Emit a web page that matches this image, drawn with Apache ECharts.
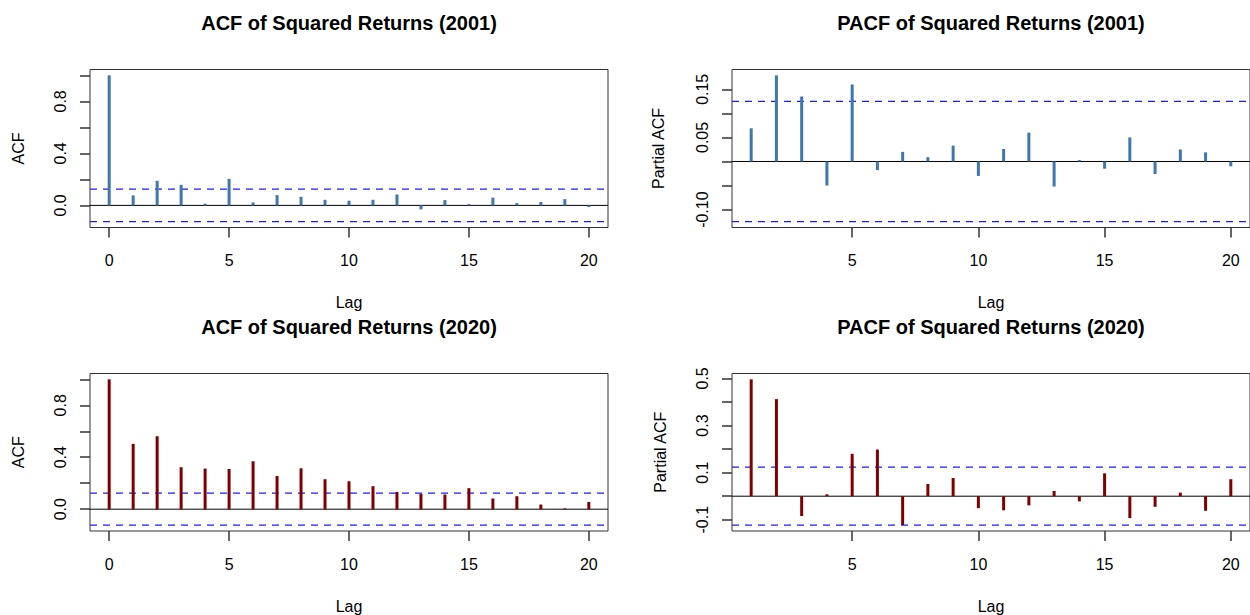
<!DOCTYPE html>
<html>
<head>
<meta charset="utf-8">
<title>ACF / PACF of Squared Returns</title>
<script src="https://cdn.jsdelivr.net/npm/echarts@6/dist/echarts.min.js"></script>
<style>
  html, body { margin: 0; padding: 0; background: #fff; }
  #main { width: 1250px; height: 615px; }
</style>
</head>
<body>
<div id="main"></div>
<script>
// lags
var lagsAcf = [0, 1, 2, 3, 4, 5, 6, 7, 8, 9, 10, 11, 12, 13, 14, 15, 16, 17, 18, 19, 20];
var lagsPacf = [1, 2, 3, 4, 5, 6, 7, 8, 9, 10, 11, 12, 13, 14, 15, 16, 17, 18, 19, 20];

// values
var acf2001 = [1.000, 0.077, 0.189, 0.158, 0.013, 0.204, 0.023, 0.079, 0.066, 0.043, 0.036,
               0.043, 0.084, -0.031, 0.041, 0.010, 0.059, 0.018, 0.026, 0.048, -0.013];
var pacf2001 = [0.069, 0.179, 0.135, -0.050, 0.160, -0.018, 0.020, 0.009, 0.033, -0.030,
                0.026, 0.060, -0.052, 0.003, -0.015, 0.050, -0.026, 0.025, 0.019, -0.010];
var acf2020 = [1.000, 0.503, 0.562, 0.323, 0.313, 0.310, 0.369, 0.256, 0.315, 0.231, 0.215,
               0.177, 0.133, 0.118, 0.113, 0.162, 0.082, 0.100, 0.036, 0.006, 0.056];
var pacf2020 = [0.496, 0.412, -0.084, 0.008, 0.180, 0.198, -0.122, 0.052, 0.077, -0.051,
                -0.060, -0.039, 0.022, -0.022, 0.097, -0.093, -0.045, 0.015, -0.062, 0.072];

// 95% bounds
var ci2001 = 0.125;
var ci2020 = 0.123;

// tick marks and labels
var xTicksAcf = [0, 5, 10, 15, 20];
var xTicksPacf = [5, 10, 15, 20];
var yTicksAcf = [0, 0.2, 0.4, 0.6, 0.8, 1.0];
var yLabelsAcf = [0, 0.4, 0.8];
var yTicksPacf2001 = [-0.10, -0.05, 0, 0.05, 0.10, 0.15];
var yLabelsPacf2001 = [-0.10, 0.05, 0.15];
var yTicksPacf2020 = [-0.1, 0, 0.1, 0.2, 0.3, 0.4, 0.5];
var yLabelsPacf2020 = [-0.1, 0.1, 0.3, 0.5];

var FONT = '"Liberation Sans", Arial, Helvetica, sans-serif';
var BLUE = '#3F76B0';
var RED = '#800000';

// R-style 4% extended range
function ext(lo, hi) {
  var d = (hi - lo) * 0.04;
  return [lo - d, hi + d];
}

function panelRange(vals, ci) {
  var lo = Math.min(Math.min.apply(null, vals), -ci);
  var hi = Math.max(Math.max.apply(null, vals), ci);
  return ext(lo, hi);
}

function pairs(xs, ys) {
  return xs.map(function (x, i) { return [x, ys[i]]; });
}

// a horizontal rule across the whole x range at level y
function hline(i, xr, y, color, type, z) {
  return {
    type: 'line', xAxisIndex: i, yAxisIndex: i,
    data: [[xr[0], y], [xr[1], y]],
    showSymbol: false, symbol: 'none', silent: true, z: z,
    lineStyle: { color: color, width: type === 'solid' ? 1 : 1.3, type: type },
    itemStyle: { color: color },
    emphasis: { disabled: true }
  };
}

var panels = [
  { title: 'ACF of Squared Returns (2001)', yName: 'ACF', lags: lagsAcf, vals: acf2001, ci: ci2001,
    color: BLUE, xt: xTicksAcf, yt: yTicksAcf, yl: yLabelsAcf, dec: 1, left: 90, top: 69.5 },
  { title: 'PACF of Squared Returns (2001)', yName: 'Partial ACF', lags: lagsPacf, vals: pacf2001, ci: ci2001,
    color: BLUE, xt: xTicksPacf, yt: yTicksPacf2001, yl: yLabelsPacf2001, dec: 2, left: 732, top: 69.5 },
  { title: 'ACF of Squared Returns (2020)', yName: 'ACF', lags: lagsAcf, vals: acf2020, ci: ci2020,
    color: RED, xt: xTicksAcf, yt: yTicksAcf, yl: yLabelsAcf, dec: 1, left: 90, top: 373.5 },
  { title: 'PACF of Squared Returns (2020)', yName: 'Partial ACF', lags: lagsPacf, vals: pacf2020, ci: ci2020,
    color: RED, xt: xTicksPacf, yt: yTicksPacf2020, yl: yLabelsPacf2020, dec: 1, left: 732, top: 373.5 }
];

var W = 518, H = 158;
var option = { animation: false, title: [], grid: [], xAxis: [], yAxis: [], series: [] };

panels.forEach(function (p, i) {
  var xr = ext(p.lags[0], p.lags[p.lags.length - 1]);
  var yr = panelRange(p.vals, p.ci);

  option.title.push({
    text: p.title,
    left: p.left + W / 2,
    top: p.top - 57,
    textAlign: 'center',
    padding: 0,
    textStyle: { fontFamily: FONT, fontSize: 20, fontWeight: 'bold', color: '#000' }
  });

  option.grid.push({
    left: p.left, top: p.top, width: W, height: H,
    show: true, borderColor: '#333', borderWidth: 1, backgroundColor: 'transparent',
    containLabel: false
  });

  option.xAxis.push({
    type: 'value', gridIndex: i, min: xr[0], max: xr[1],
    name: 'Lag', nameLocation: 'middle', nameGap: 67,
    nameTextStyle: { fontFamily: FONT, fontSize: 16, color: '#000' },
    axisLine: { show: false, onZero: false },
    splitLine: { show: false },
    axisTick: { show: true, length: 10, customValues: p.xt, lineStyle: { color: '#333', width: 1.5 } },
    axisLabel: { customValues: p.xt, margin: 25, fontFamily: FONT, fontSize: 16, color: '#000' }
  });

  option.yAxis.push({
    type: 'value', gridIndex: i, min: yr[0], max: yr[1],
    name: p.yName, nameLocation: 'middle', nameGap: p.dec === 2 ? 66 : 64,
    nameTextStyle: { fontFamily: FONT, fontSize: 16, color: '#000' },
    axisLine: { show: false, onZero: false },
    splitLine: { show: false },
    axisTick: { show: true, length: 10, customValues: p.yt, lineStyle: { color: '#333', width: 1.5 } },
    axisLabel: {
      customValues: p.yl, rotate: 90, margin: 22,
      fontFamily: FONT, fontSize: 16, color: '#000',
      formatter: (function (d) { return function (v) { return Number(v).toFixed(d); }; })(p.dec)
    }
  });

  // zero line and confidence bounds
  option.series.push(hline(i, xr, 0, '#000', 'solid', 2));
  option.series.push(hline(i, xr, p.ci, '#1A1AFF', [7, 6], 3));
  option.series.push(hline(i, xr, -p.ci, '#1A1AFF', [7, 6], 3));

  // the spikes
  option.series.push({
    type: 'bar', xAxisIndex: i, yAxisIndex: i,
    barWidth: 3, z: 4,
    itemStyle: { color: p.color },
    silent: true,
    data: pairs(p.lags, p.vals)
  });
});

var chart = echarts.init(document.getElementById('main'), null, { renderer: 'svg' });
chart.setOption(option);
</script>
</body>
</html>
